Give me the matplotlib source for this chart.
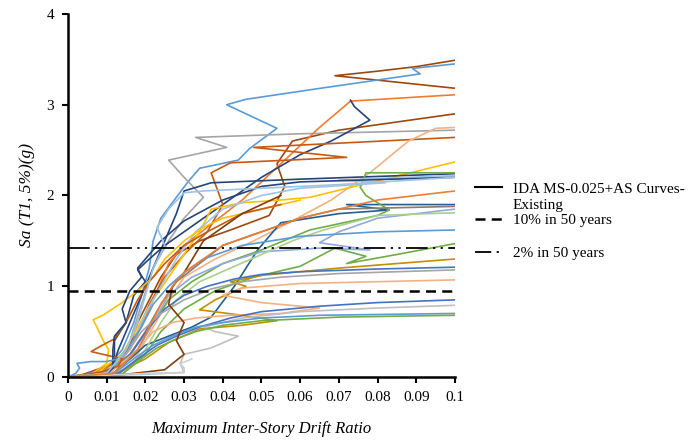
import matplotlib
matplotlib.use("Agg")
import matplotlib.pyplot as plt
from matplotlib.lines import Line2D

plt.rcParams['font.family'] = ['Liberation Serif', 'DejaVu Serif']

# IDA curves: drift ratio / Sa(g) pairs (each row is one record)
ida_drift = [
    [0, 0.004, 0.012, 0.016, 0.018, 0.021, 0.024, 0.028, 0.034, 0.042, 0.052, 0.056, 0.054, 0.058, 0.07, 0.1, 0.125, 0.069, 0.08, 0.09, 0.1, 0.125],
    [0, 0.004, 0.01, 0.014, 0.017, 0.019, 0.021, 0.022, 0.024, 0.028, 0.031, 0.034, 0.044, 0.047, 0.054, 0.041, 0.046, 0.065, 0.091, 0.089, 0.1, 0.12],
    [0, 0.008, 0.013, 0.016, 0.019, 0.022, 0.026, 0.03, 0.035, 0.03, 0.026, 0.041, 0.033, 0.06, 0.1, 0.12],
    [0, 0.008, 0.016, 0.02, 0.023, 0.026, 0.03, 0.036, 0.045, 0.055, 0.065, 0.073, 0.1, 0.12],
    [0, 0.011, 0.012, 0.012, 0.015, 0.017, 0.02, 0.018, 0.021, 0.025, 0.03, 0.04, 0.05, 0.06, 0.068, 0.078, 0.074, 0.073],
    [0, 0.006, 0.014, 0.018, 0.021, 0.025, 0.03, 0.036, 0.04, 0.037, 0.042, 0.072, 0.048, 0.1, 0.12],
    [0, 0.01, 0.018, 0.022, 0.026, 0.03, 0.038, 0.048, 0.058, 0.068, 0.078, 0.088, 0.095, 0.1, 0.12],
    [0, 0.007, 0.014, 0.018, 0.022, 0.026, 0.03, 0.034, 0.037, 0.045, 0.055, 0.0625, 0.1, 0.12],
    [0, 0.011, 0.013, 0.016, 0.019, 0.022, 0.025, 0.028, 0.03, 0.037, 0.06, 0.1, 0.12],
    [0, 0.012, 0.016, 0.02, 0.026, 0.032, 0.037, 0.043, 0.049, 0.055, 0.07, 0.083, 0.072, 0.1, 0.12],
    [0, 0.01, 0.018, 0.022, 0.026, 0.032, 0.04, 0.05, 0.0625, 0.08, 0.083, 0.077, 0.0755, 0.077, 0.1, 0.12],
    [0, 0.01, 0.016, 0.02, 0.024, 0.028, 0.033, 0.04, 0.05, 0.06, 0.082, 0.07, 0.1, 0.12],
    [0, 0.009, 0.016, 0.02, 0.024, 0.028, 0.034, 0.04, 0.05, 0.06, 0.07, 0.1, 0.12],
    [0, 0.012, 0.018, 0.022, 0.026, 0.032, 0.04, 0.05, 0.065, 0.078, 0.065, 0.07, 0.08, 0.1, 0.12],
    [0, 0.014, 0.02, 0.024, 0.028, 0.034, 0.042, 0.05, 0.058, 0.066, 0.08, 0.1, 0.12],
    [0, 0.013, 0.02, 0.024, 0.03, 0.038, 0.048, 0.06, 0.069, 0.077, 0.072, 0.085, 0.1, 0.12],
    [0, 0.012, 0.02, 0.026, 0.034, 0.045, 0.054, 0.045, 0.034, 0.038, 0.046, 0.042, 0.05, 0.07, 0.085, 0.1, 0.12],
    [0, 0.012, 0.017, 0.021, 0.025, 0.03, 0.036, 0.043, 0.05, 0.06, 0.08, 0.1, 0.12],
    [0, 0.01, 0.015, 0.019, 0.024, 0.03, 0.037, 0.045, 0.055, 0.07, 0.1, 0.12],
    [0, 0.011, 0.018, 0.022, 0.027, 0.033, 0.042, 0.055, 0.065, 0.05, 0.04, 0.045, 0.06, 0.08, 0.1, 0.12],
    [0, 0.013, 0.018, 0.023, 0.028, 0.034, 0.042, 0.05, 0.065, 0.08, 0.1, 0.12],
    [0, 0.02, 0.03, 0.029, 0.03, 0.037, 0.044, 0.038, 0.035, 0.045, 0.06, 0.08, 0.1, 0.12],
    [0, 0.012, 0.017, 0.022, 0.027, 0.033, 0.04, 0.05, 0.065, 0.1, 0.12],
    [0, 0.014, 0.019, 0.023, 0.028, 0.033, 0.04, 0.05, 0.07, 0.1, 0.12],
    [0, 0.006, 0.01, 0.0105, 0.009, 0.0078, 0.0065, 0.009, 0.014, 0.018, 0.022, 0.025, 0.03, 0.035, 0.04, 0.05, 0.06],
    [0, 0.004, 0.009, 0.013, 0.014, 0.01, 0.006, 0.008, 0.012, 0.015, 0.018, 0.021, 0.025, 0.03, 0.036, 0.045, 0.055],
    [0, 0.015, 0.025, 0.03, 0.028, 0.029, 0.03, 0.026, 0.027, 0.03, 0.035, 0.045, 0.055],
    [0, 0.01, 0.0116, 0.0116, 0.012, 0.015, 0.014, 0.016, 0.019, 0.018, 0.021, 0.024, 0.03, 0.04, 0.05, 0.06, 0.1, 0.12],
    [0, 0.002, 0.003, 0.0023, 0.006, 0.01, 0.013, 0.016, 0.019, 0.022, 0.026, 0.03, 0.035, 0.045, 0.06, 0.08, 0.1, 0.12],
    [0, 0.01, 0.02, 0.03, 0.03, 0.029, 0.031, 0.032],
    [0, 0.01, 0.015, 0.018, 0.02, 0.022, 0.025, 0.023, 0.026, 0.03, 0.035, 0.05, 0.07, 0.1, 0.12],
    [0, 0.012, 0.018, 0.021, 0.024, 0.027, 0.03, 0.035, 0.04, 0.05, 0.06, 0.07, 0.08, 0.1, 0.12],
]
ida_sa = [
    [0, 0.03, 0.15, 0.35, 0.6, 0.85, 1.1, 1.35, 1.5, 1.62, 1.78, 2.1, 2.35, 2.6, 2.72, 2.9, 3.07, 3.32, 3.37, 3.42, 3.49, 3.52],
    [0, 0.02, 0.1, 0.3, 0.6, 0.9, 1.2, 1.5, 1.75, 1.98, 2.15, 2.3, 2.39, 2.52, 2.74, 3.0, 3.06, 3.18, 3.34, 3.4, 3.45, 3.5],
    [0, 0.03, 0.15, 0.4, 0.8, 1.2, 1.5, 1.75, 1.98, 2.2, 2.39, 2.53, 2.64, 2.68, 2.72, 2.73],
    [0, 0.03, 0.3, 0.65, 0.95, 1.25, 1.45, 1.65, 1.95, 2.35, 2.75, 3.04, 3.11, 3.13],
    [0, 0.04, 0.2, 0.4, 0.6, 0.9, 1.05, 1.18, 1.3, 1.45, 1.6, 1.9, 2.2, 2.45, 2.6, 2.83, 2.98, 3.05],
    [0, 0.03, 0.2, 0.5, 0.8, 1.1, 1.35, 1.6, 1.9, 2.25, 2.36, 2.42, 2.53, 2.64, 2.66],
    [0, 0.04, 0.25, 0.55, 0.85, 1.1, 1.3, 1.5, 1.72, 1.95, 2.25, 2.6, 2.74, 2.75, 2.76],
    [0, 0.03, 0.25, 0.55, 0.85, 1.1, 1.35, 1.6, 1.85, 1.92, 1.95, 1.98, 2.37, 2.57],
    [0, 0.04, 0.3, 0.6, 0.9, 1.2, 1.5, 1.8, 2.05, 2.14, 2.18, 2.24, 2.25],
    [0, 0.05, 0.2, 0.35, 0.45, 0.55, 0.66, 1.0, 1.4, 1.7, 1.8, 1.84, 1.9, 1.9, 1.91],
    [0, 0.03, 0.3, 0.6, 0.85, 1.05, 1.25, 1.4, 1.62, 1.78, 1.84, 2.0, 2.09, 2.25, 2.25, 2.26],
    [0, 0.05, 0.3, 0.7, 1.0, 1.3, 1.6, 1.85, 2.0, 2.08, 2.14, 2.17, 2.22, 2.23],
    [0, 0.03, 0.25, 0.5, 0.8, 1.05, 1.25, 1.45, 1.6, 1.75, 1.85, 1.88, 1.88],
    [0, 0.05, 0.3, 0.6, 0.9, 1.1, 1.25, 1.38, 1.42, 1.4, 1.48, 1.6, 1.75, 1.85, 1.86],
    [0, 0.03, 0.3, 0.6, 0.85, 1.05, 1.2, 1.35, 1.5, 1.62, 1.78, 1.81, 1.81],
    [0, 0.03, 0.25, 0.5, 0.75, 0.95, 1.1, 1.22, 1.42, 1.33, 1.25, 1.35, 1.47, 1.52],
    [0, 0.03, 0.2, 0.38, 0.53, 0.57, 0.62, 0.68, 0.74, 0.85, 1.0, 1.05, 1.12, 1.2, 1.25, 1.3, 1.33],
    [0, 0.04, 0.3, 0.55, 0.75, 0.9, 1.0, 1.08, 1.13, 1.16, 1.19, 1.21, 1.22],
    [0, 0.05, 0.25, 0.5, 0.7, 0.85, 0.97, 1.05, 1.1, 1.14, 1.18, 1.18],
    [0, 0.05, 0.3, 0.5, 0.6, 0.65, 0.68, 0.7, 0.76, 0.82, 0.9, 0.98, 1.03, 1.05, 1.07, 1.07],
    [0, 0.04, 0.2, 0.35, 0.45, 0.55, 0.65, 0.72, 0.78, 0.82, 0.85, 0.86],
    [0, 0.03, 0.05, 0.15, 0.25, 0.32, 0.45, 0.5, 0.55, 0.65, 0.72, 0.76, 0.79, 0.79],
    [0, 0.04, 0.2, 0.35, 0.45, 0.55, 0.6, 0.65, 0.68, 0.7, 0.7],
    [0, 0.03, 0.2, 0.32, 0.42, 0.5, 0.57, 0.62, 0.66, 0.68, 0.68],
    [0, 0.03, 0.15, 0.3, 0.41, 0.52, 0.63, 0.68, 0.82, 0.95, 1.1, 1.3, 1.5, 1.65, 1.75, 1.85, 1.95],
    [0, 0.02, 0.06, 0.12, 0.2, 0.24, 0.28, 0.33, 0.42, 0.6, 0.85, 1.05, 1.25, 1.45, 1.6, 1.8, 1.9],
    [0, 0.03, 0.08, 0.25, 0.4, 0.5, 0.6, 0.8, 1.0, 1.15, 1.5, 1.8, 2.0],
    [0, 0.03, 0.1, 0.3, 0.45, 0.6, 0.75, 0.95, 1.1, 1.2, 1.35, 1.5, 1.72, 1.95, 2.1, 2.15, 2.2, 2.21],
    [0, 0.04, 0.1, 0.15, 0.17, 0.17, 0.2, 0.35, 0.55, 0.8, 1.0, 1.15, 1.3, 1.45, 1.55, 1.6, 1.62, 1.62],
    [0, 0.02, 0.04, 0.05, 0.1, 0.15, 0.18, 0.2],
    [0, 0.04, 0.3, 0.6, 0.9, 1.2, 1.45, 1.65, 1.85, 2.03, 2.05, 2.08, 2.12, 2.2, 2.22],
    [0, 0.04, 0.3, 0.55, 0.8, 1.0, 1.15, 1.3, 1.45, 1.6, 1.75, 1.85, 1.95, 2.05, 2.1],
]
ida_color = [
    '#9E480E', '#5B9BD5', '#A5A5A5', '#ED7D31', '#264478', '#C55A11', '#F4B183', '#FFC000',
    '#264478', '#255E91', '#70AD47', '#9DC3E6', '#7F7F7F', '#8FAADC', '#A9D18E', '#70AD47',
    '#BF9000', '#4472C4', '#A5A5A5', '#F4B183', '#4472C4', '#BFBFBF', '#5B9BD5', '#70AD47',
    '#FFC000', '#C55A11', '#843C0C', '#264478', '#5B9BD5', '#D0CECE', '#9DC3E6', '#ED7D31',
]

hazard_sa = [0.95, 1.42]
hazard_labels = ['10% in 50 years', '2% in 50 years']
legend_curve_label = ['IDA MS-0.025+AS Curves-', 'Existing']

x_ticks = [0, 0.01, 0.02, 0.03, 0.04, 0.05, 0.06, 0.07, 0.08, 0.09, 0.1]
x_tick_labels = ['0', '0.01', '0.02', '0.03', '0.04', '0.05', '0.06', '0.07', '0.08', '0.09', '0.1']
y_ticks = [0, 1, 2, 3, 4]

dash10 = (4, 2.5)
dash2 = (12, 3, 1.2, 3, 1.2, 3)

fig = plt.figure(figsize=(6.96, 4.4), dpi=100)
ax = fig.add_axes([0.0977, 0.1432, 0.556, 0.825])

for d, s, c in zip(ida_drift, ida_sa, ida_color):
    ax.plot(d, s, color=c, lw=1.2, solid_joinstyle='round')

ax.axhline(hazard_sa[0], color='black', lw=1.8, dashes=dash10)
ax.axhline(hazard_sa[1], color='black', lw=1.3, dashes=dash2)

ax.set_xlim(0, 0.1)
ax.set_ylim(0, 4)
ax.set_xticks(x_ticks)
ax.set_xticklabels(x_tick_labels)
ax.set_yticks(y_ticks)
ax.tick_params(axis='both', labelsize=11, length=4, width=1.5, direction='out', pad=6)
for side in ['top', 'right']:
    ax.spines[side].set_visible(False)
for side in ['left', 'bottom']:
    ax.spines[side].set_linewidth(1.8)

ax.set_xlabel('Maximum Inter-Story Drift Ratio', fontsize=12, style='italic', labelpad=12)
ax.set_ylabel('Sa (T1, 5%)(g)', fontsize=12.5, style='italic', labelpad=8)

handles = [Line2D([], [], color='black', lw=1.5),
           Line2D([], [], color='none'),
           Line2D([], [], color='black', lw=1.8, dashes=dash10)]
fig.legend(handles, legend_curve_label + hazard_labels[:1], loc='upper left',
           bbox_to_anchor=(0.662, 0.618), frameon=False, fontsize=11,
           handlelength=1.8, handletextpad=0.7, labelspacing=0.15)
fig.legend([Line2D([], [], color='black', lw=1.3, dashes=(9, 3, 1.2, 3))], hazard_labels[1:],
           loc='upper left', bbox_to_anchor=(0.662, 0.471), frameon=False, fontsize=11,
           handlelength=1.8, handletextpad=0.7)

fig.savefig('out.png', dpi=100)
